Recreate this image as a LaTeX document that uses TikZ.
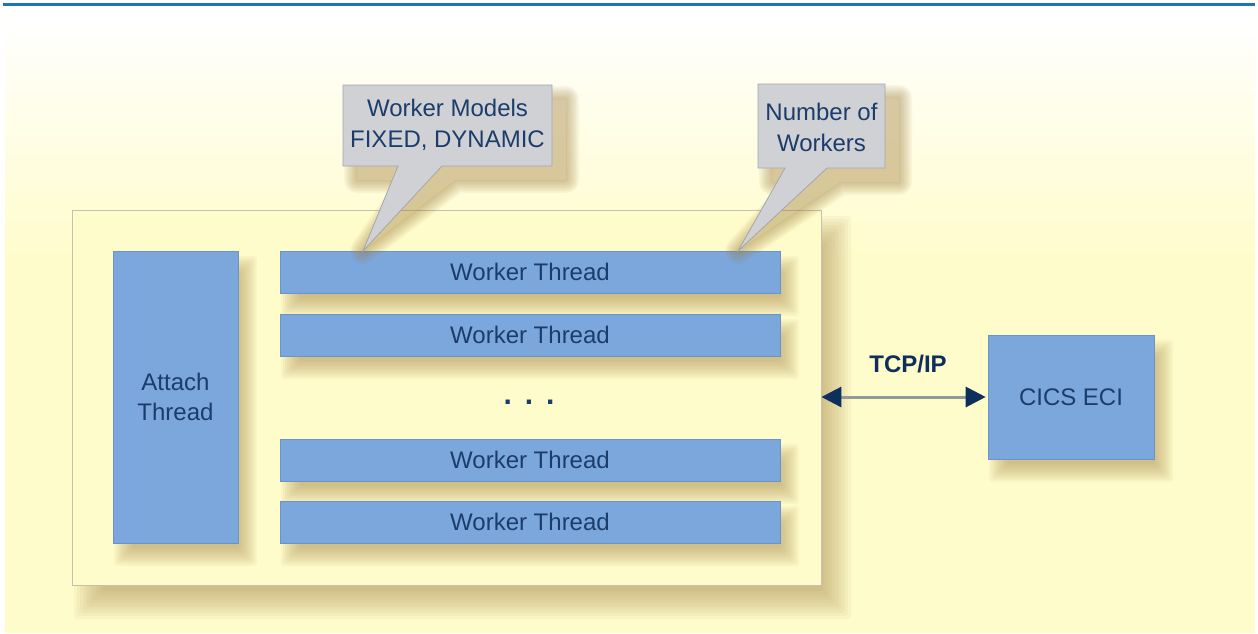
\documentclass[tikz,border=0pt]{standalone}
\usepackage{fontspec}
\setmainfont{Liberation Sans}
\usetikzlibrary{arrows.meta}
\definecolor{topline}{HTML}{1A75BB}
\definecolor{bgy}{HTML}{FFFCCB}
\definecolor{boxblue}{HTML}{7BA7DC}
\definecolor{boxedge}{HTML}{6A93C8}
\definecolor{txt}{HTML}{1C3D6C}
\definecolor{contfill}{HTML}{FFFCCB}
\definecolor{contedge}{HTML}{C4C1AC}
\definecolor{callfill}{HTML}{D0D1D5}
\definecolor{calledge}{HTML}{A2A6AE}
\definecolor{shadowc}{HTML}{A07E40}
\definecolor{arrowline}{HTML}{8E9C9A}
\definecolor{arrowtip}{HTML}{0E2F5C}
% general path shadow (blur outward only)
\newcommand\myshadow[4]{%
  \begin{scope}[shift={(#2,#3)}]
    \begin{scope}[even odd rule]
      \clip (-200,-200) rectangle (1500,900) #1;
      \foreach \k in {1,...,8}{\draw[shadowc, opacity=0.065, line width=#4*\k/4*1pt, line join=round] #1;}
    \end{scope}
    \fill[shadowc, opacity=0.42] #1;
  \end{scope}}
% rectangle shadow (blur both ways): x1 y1 x2 y2 dx dy r
\newcommand\rectshadow[7]{%
  \foreach \k in {0,...,9}{%
    \pgfmathsetmacro\ee{#7-2*#7*\k/9}%
    \fill[shadowc, opacity=0.06, rounded corners=3pt]
      ({#1+#5-\ee},{#2+#6-\ee}) rectangle ({#3+#5+\ee},{#4+#6+\ee});}}
\tikzset{
  bluebox/.style={draw=boxedge, line width=0.6pt, fill=boxblue, inner sep=0pt, text=txt,
    font=\fontsize{24}{30}\selectfont, align=center},
  worker/.style={bluebox, minimum width=500pt, minimum height=42pt},
  container/.style={draw=contedge, line width=0.8pt, fill=contfill, minimum width=749pt, minimum height=375pt, inner sep=0pt},
  calltext/.style={text=txt, font=\fontsize{24}{31}\selectfont, align=center, inner sep=0pt},
  callshape/.style={fill=callfill, draw=calledge, line width=0.8pt, line join=miter},
  conn/.style={arrowline, line width=3pt,
    {Triangle[length=20pt,width=20pt,color=arrowtip]}-{Triangle[length=20pt,width=20pt,color=arrowtip]}}
}
\begin{document}
\begin{tikzpicture}[x=1pt,y=-1pt]
\useasboundingbox (0,0) rectangle (1258,633);
\fill[white] (0,0) rectangle (1258,633);
\shade[top color=white, bottom color=bgy] (5,15) rectangle (1255,260);
\fill[bgy] (5,259) rectangle (1255,633);
\draw[topline, line width=3pt] (3,4.5) -- (1255,4.5);

% container
\rectshadow{72}{210}{821}{585}{16}{20}{14}
\node[container] (cont) at (446.5,397.5) {};

% inner shadows
\rectshadow{113}{251}{238}{543}{10}{14}{9}
\foreach \yy in {251,314,439,501}{\rectshadow{280}{\yy}{780}{\yy+42}{10}{14}{9}}
\rectshadow{988}{335}{1154}{459}{10}{14}{9}

\node[bluebox, minimum width=125pt, minimum height=292pt] (attach) at (175.5,397) {Attach\\Thread};
\node[worker] (w1) at (530,272) {Worker Thread};
\node[worker] (w2) at (530,335) {Worker Thread};
\node[worker] (w3) at (530,460) {Worker Thread};
\node[worker] (w4) at (530,522) {Worker Thread};
\node[text=txt, font=\fontsize{30}{30}\selectfont\bfseries, inner sep=0pt] (dots) at (529,402) {.\hspace{13pt}.\hspace{13pt}.};

\node[bluebox, minimum width=166pt, minimum height=124pt] (cics) at (1071,397) {CICS ECI};

% callouts
\coordinate (tip1) at (363,251);
\coordinate (tip2) at (738,251);
\myshadow{(343,85) -- (552,85) -- (552,166) -- (442,166) -- (tip1) -- (398,166) -- (343,166) -- cycle}{14}{14}{13}
\myshadow{(758,84) -- (885,84) -- (885,168) -- (827,168) -- (tip2) -- (785,168) -- (758,168) -- cycle}{14}{14}{13}
\draw[callshape] (343,85) -- (552,85) -- (552,166) -- (442,166) -- (tip1) -- (398,166) -- (343,166) -- cycle;
\draw[callshape] (758,84) -- (885,84) -- (885,168) -- (827,168) -- (tip2) -- (785,168) -- (758,168) -- cycle;
\node[calltext] (c1) at (447.5,125) {Worker Models\\FIXED, DYNAMIC};
\node[calltext] (c2) at (821.5,127) {Number of\\Workers};

% connector
\draw[conn, shorten >=2pt] (cics.west -| cont.east) -- (cics.west);
\node[text=arrowtip, font=\fontsize{24}{30}\selectfont\bfseries, inner sep=0pt] (tcp) at (908,364) {TCP/IP};
\end{tikzpicture}
\end{document}
